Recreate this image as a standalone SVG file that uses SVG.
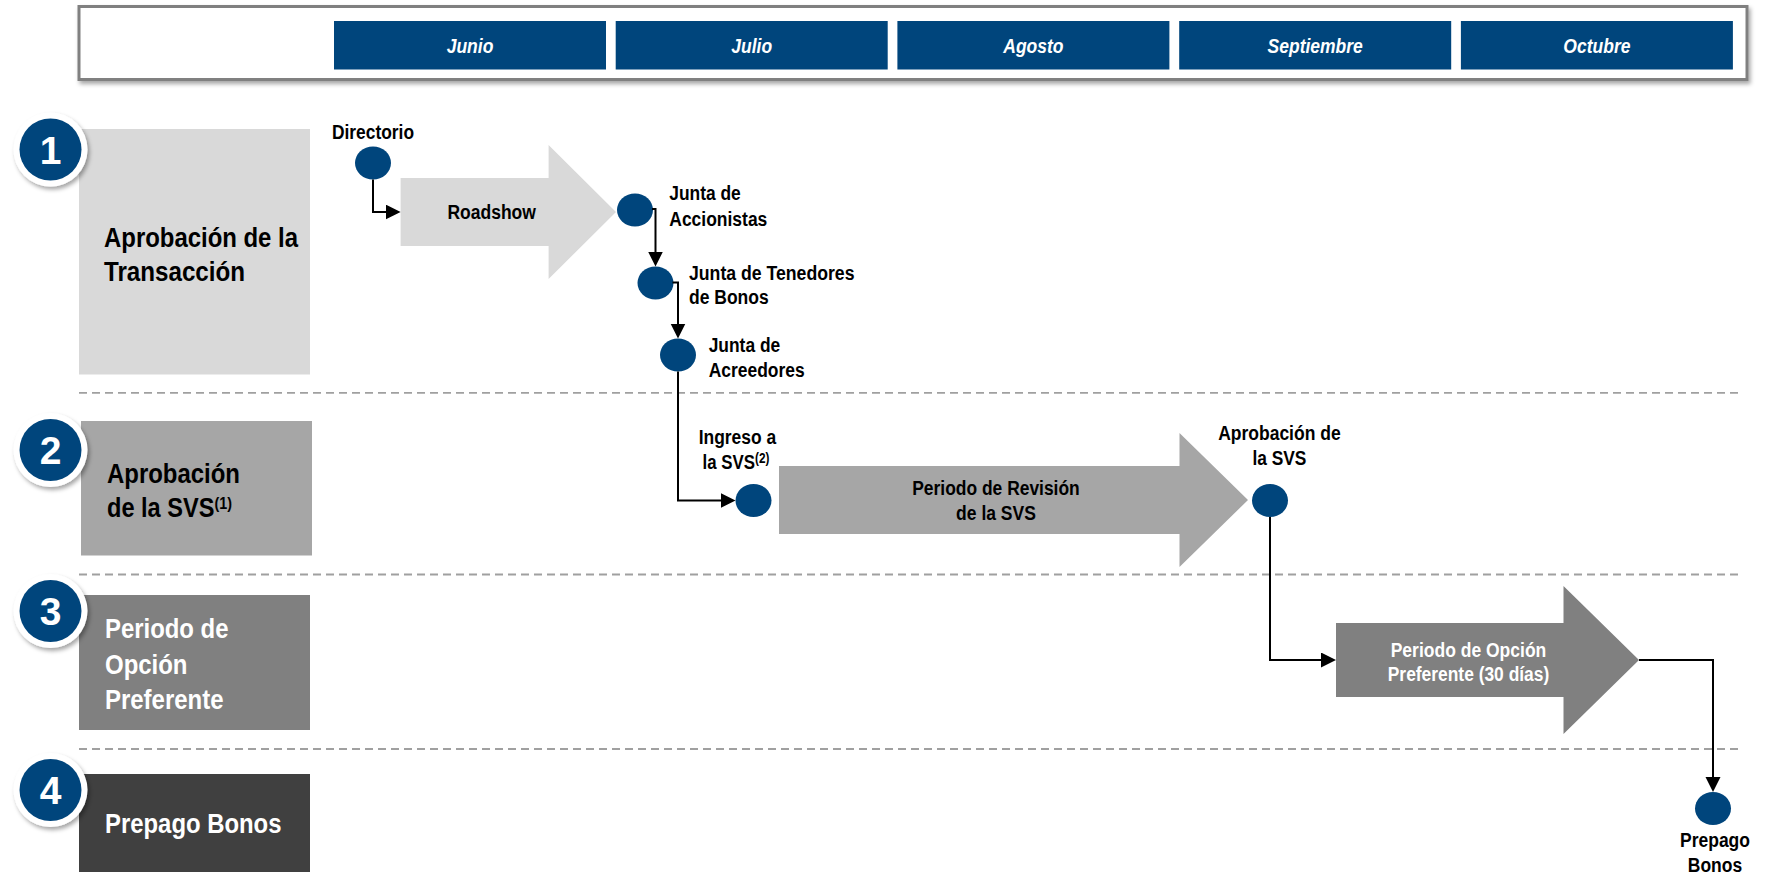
<svg xmlns="http://www.w3.org/2000/svg" width="1770" height="888" viewBox="0 0 1770 888">
<style>
text{font-family:"Liberation Sans",Arial,sans-serif;font-weight:bold}
.month{fill:#fff;font-size:21px;font-style:italic;text-anchor:middle}
.mbox{fill:#00457c}
.cat{font-size:28px}
.lbl{font-size:20px;fill:#000}
.mid{text-anchor:middle}
.node{fill:#00457c}
.num{fill:#fff;font-size:39px;text-anchor:middle}
.dash{stroke:#a0a0a0;stroke-width:1.8;stroke-dasharray:8 5;fill:none}
.conn{stroke:#000;stroke-width:2;fill:none;marker-end:url(#ah)}
</style>
<defs>
<filter id="sh" x="-20%" y="-20%" width="150%" height="160%">
<feDropShadow dx="2" dy="3" stdDeviation="2.2" flood-color="#000" flood-opacity="0.35"/>
</filter>
<marker id="ah" markerUnits="userSpaceOnUse" markerWidth="16" markerHeight="16" refX="11" refY="7.5" orient="auto">
<path d="M0,0 L15,7.5 L0,15 z" fill="#000"/>
</marker>
</defs>
<rect width="1770" height="888" fill="#fff"/>

<g id="header">
<rect x="79" y="6.5" width="1668" height="73" fill="#fff" stroke="#808080" stroke-width="3" filter="url(#sh)"/>
<rect class="mbox" x="334" y="21" width="272" height="48.5"/>
<rect class="mbox" x="615.7" y="21" width="272" height="48.5"/>
<rect class="mbox" x="897.4" y="21" width="272" height="48.5"/>
<rect class="mbox" x="1179.2" y="21" width="272" height="48.5"/>
<rect class="mbox" x="1460.9" y="21" width="272" height="48.5"/>
<text class="month" x="470" y="53" textLength="46.7" lengthAdjust="spacingAndGlyphs">Junio</text>
<text class="month" x="751.7" y="53" textLength="40.8" lengthAdjust="spacingAndGlyphs">Julio</text>
<text class="month" x="1033.4" y="53" textLength="60.3" lengthAdjust="spacingAndGlyphs">Agosto</text>
<text class="month" x="1315.2" y="53" textLength="95.3" lengthAdjust="spacingAndGlyphs">Septiembre</text>
<text class="month" x="1596.9" y="53" textLength="67.1" lengthAdjust="spacingAndGlyphs">Octubre</text>
</g>

<g id="dividers">
<line class="dash" x1="79" y1="392.8" x2="1738" y2="392.8"/>
<line class="dash" x1="79" y1="574.5" x2="1738" y2="574.5"/>
<line class="dash" x1="79" y1="749" x2="1738" y2="749"/>
</g>

<g id="row1">
<rect x="79" y="129" width="231" height="245.5" fill="#d9d9d9"/>
<text class="cat" x="104" y="247" textLength="194" lengthAdjust="spacingAndGlyphs">Aprobación de la</text>
<text class="cat" x="104" y="281" textLength="141" lengthAdjust="spacingAndGlyphs">Transacción</text>
<circle cx="50.5" cy="149.5" r="37" fill="#fff" filter="url(#sh)"/>
<circle cx="50.5" cy="149.5" r="31" fill="#00457c"/>
<text class="num" x="50.5" y="163.5">1</text>
</g>

<g id="row2">
<rect x="81" y="421" width="231" height="134.5" fill="#a6a6a6"/>
<text class="cat" x="107" y="483" textLength="133" lengthAdjust="spacingAndGlyphs">Aprobación</text>
<text class="cat" transform="translate(107,517) scale(0.842,1)">de la SVS<tspan font-size="17" dy="-8">(1)</tspan></text>
<circle cx="50.5" cy="450" r="37" fill="#fff" filter="url(#sh)"/>
<circle cx="50.5" cy="450" r="31" fill="#00457c"/>
<text class="num" x="50.5" y="464">2</text>
</g>

<g id="row3">
<rect x="79" y="595" width="231" height="135" fill="#808080"/>
<text class="cat" x="105" y="638" fill="#fff" textLength="123.5" lengthAdjust="spacingAndGlyphs">Periodo de</text>
<text class="cat" x="105" y="674" fill="#fff" textLength="82.5" lengthAdjust="spacingAndGlyphs">Opción</text>
<text class="cat" x="105" y="709" fill="#fff" textLength="118.5" lengthAdjust="spacingAndGlyphs">Preferente</text>
<circle cx="50.5" cy="611" r="37" fill="#fff" filter="url(#sh)"/>
<circle cx="50.5" cy="611" r="31" fill="#00457c"/>
<text class="num" x="50.5" y="625">3</text>
</g>

<g id="row4">
<rect x="79" y="774" width="231" height="98" fill="#404040"/>
<text class="cat" x="105" y="833" fill="#fff" textLength="176.5" lengthAdjust="spacingAndGlyphs">Prepago Bonos</text>
<circle cx="50.5" cy="790" r="37" fill="#fff" filter="url(#sh)"/>
<circle cx="50.5" cy="790" r="31" fill="#00457c"/>
<text class="num" x="50.5" y="804">4</text>
</g>

<g id="roadshow">
<polygon points="400.6,178 548.6,178 548.6,145 616,212 548.6,279 548.6,246 400.6,246" fill="#d9d9d9"/>
<text class="lbl mid" x="491.7" y="219" textLength="88.5" lengthAdjust="spacingAndGlyphs">Roadshow</text>
</g>

<g id="revision">
<polygon points="779,466 1179.5,466 1179.5,433 1248,500 1179.5,567 1179.5,534 779,534" fill="#a6a6a6"/>
<text class="lbl mid" x="996" y="495" textLength="167.5" lengthAdjust="spacingAndGlyphs">Periodo de Revisión</text>
<text class="lbl mid" x="996" y="520" textLength="79.8" lengthAdjust="spacingAndGlyphs">de la SVS</text>
</g>

<g id="opcion">
<polygon points="1336,623 1563.5,623 1563.5,586 1639,660 1563.5,734 1563.5,697 1336,697" fill="#808080"/>
<text class="lbl mid" x="1468.5" y="657" style="fill:#fff" textLength="155.6" lengthAdjust="spacingAndGlyphs">Periodo de Opción</text>
<text class="lbl mid" x="1468.5" y="681" style="fill:#fff" textLength="161.5" lengthAdjust="spacingAndGlyphs">Preferente (30 días)</text>
</g>

<g id="directorio">
<ellipse class="node" cx="373" cy="163" rx="18" ry="16.5"/>
<text class="lbl mid" x="373" y="138.5" textLength="82" lengthAdjust="spacingAndGlyphs">Directorio</text>
</g>

<g id="accionistas">
<ellipse class="node" cx="635" cy="210" rx="18" ry="16.5"/>
<text class="lbl" x="669.3" y="200" textLength="71.5" lengthAdjust="spacingAndGlyphs">Junta de</text>
<text class="lbl" x="669.3" y="226" textLength="98" lengthAdjust="spacingAndGlyphs">Accionistas</text>
</g>

<g id="tenedores">
<ellipse class="node" cx="655.5" cy="283" rx="18" ry="16.5"/>
<text class="lbl" x="689" y="280" textLength="165.5" lengthAdjust="spacingAndGlyphs">Junta de Tenedores</text>
<text class="lbl" x="689" y="304" textLength="79.7" lengthAdjust="spacingAndGlyphs">de Bonos</text>
</g>

<g id="acreedores">
<ellipse class="node" cx="678" cy="355" rx="18" ry="16.5"/>
<text class="lbl" x="708.7" y="352" textLength="71.5" lengthAdjust="spacingAndGlyphs">Junta de</text>
<text class="lbl" x="708.7" y="377" textLength="96" lengthAdjust="spacingAndGlyphs">Acreedores</text>
</g>

<g id="ingreso">
<ellipse class="node" cx="753.5" cy="500.5" rx="18" ry="16.5"/>
<text class="lbl mid" x="737.4" y="444" textLength="77.5" lengthAdjust="spacingAndGlyphs">Ingreso a</text>
<text class="lbl" transform="translate(702.5,469) scale(0.843,1)">la SVS<tspan font-size="14" dy="-6">(2)</tspan></text>
</g>

<g id="aprobacion-svs">
<ellipse class="node" cx="1270" cy="500.5" rx="18" ry="16.5"/>
<text class="lbl mid" x="1279.4" y="440" textLength="122.5" lengthAdjust="spacingAndGlyphs">Aprobación de</text>
<text class="lbl mid" x="1279.4" y="465" textLength="54" lengthAdjust="spacingAndGlyphs">la SVS</text>
</g>

<g id="prepago">
<ellipse class="node" cx="1713" cy="808.5" rx="18" ry="16.5"/>
<text class="lbl mid" x="1715" y="847" textLength="70" lengthAdjust="spacingAndGlyphs">Prepago</text>
<text class="lbl mid" x="1715" y="872" textLength="54.4" lengthAdjust="spacingAndGlyphs">Bonos</text>
</g>

<g id="connectors">
<path class="conn" d="M373,179.5 V212 H396.6"/>
<path class="conn" d="M652,209 H655.5 V262.5"/>
<path class="conn" d="M672.5,282.5 H678 V334.5"/>
<path class="conn" d="M678,371.5 V500.5 H731.5"/>
<path class="conn" d="M1270,517 V660 H1332"/>
<path class="conn" d="M1639,660 H1713 V788"/>
</g>
</svg>
